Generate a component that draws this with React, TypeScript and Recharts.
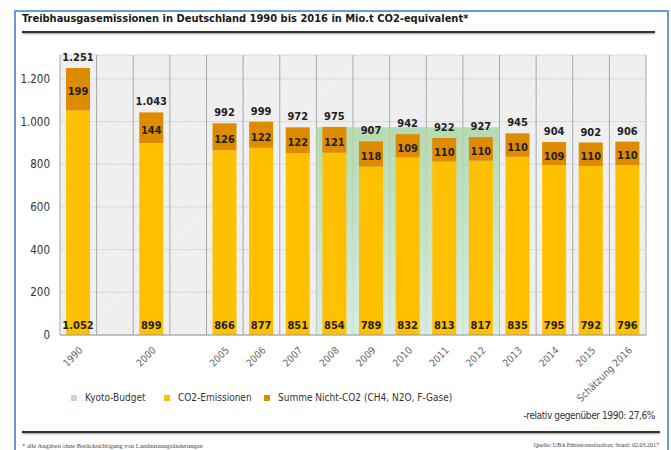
import React from "react";
import {
  ComposedChart,
  Bar,
  XAxis,
  YAxis,
  CartesianGrid,
  ReferenceArea,
  LabelList,
} from "recharts";

// categories (two empty columns between 1990, 2000 and 2005)
const years = [
  "1990", "gap1", "2000", "gap2", "2005", "2006", "2007", "2008",
  "2009", "2010", "2011", "2012", "2013", "2014", "2015", "Schätzung 2016",
];
const co2 = [1052, null, 899, null, 866, 877, 851, 854, 789, 832, 813, 817, 835, 795, 792, 796];
const nonCo2 = [199, null, 144, null, 126, 122, 122, 121, 118, 109, 110, 110, 110, 109, 110, 110];
const totals = [1251, null, 1043, null, 992, 999, 972, 975, 907, 942, 922, 927, 945, 904, 902, 906];
const yTicks = [0, 200, 400, 600, 800, 1000, 1200];
const kyotoBudget = 974;
const kyotoFrom = "2008";
const kyotoTo = "2012";

const data = years.map((year, i) => ({
  year,
  co2: co2[i],
  nonCo2: nonCo2[i],
  total: totals[i],
}));

const YELLOW = "#ffc000";
const ORANGE = "#de8b00";
const GREEN = "#bfe0bb";
const FONT = "'DejaVu Sans Condensed', 'Liberation Sans', sans-serif";

const fmt = (v: any) =>
  v == null ? "" : String(v).replace(/\B(?=(\d{3})+(?!\d))/g, ".");

function YearTick({ x, y, payload }: any) {
  if (String(payload.value).startsWith("gap")) return <g />;
  const tx = x + 5;
  const ty = y + 14;
  return (
    <text
      x={tx}
      y={ty}
      transform={`rotate(-45, ${tx}, ${ty})`}
      textAnchor="end"
      fontSize={10}
      fontFamily={FONT}
      fill="#666"
    >
      {payload.value}
    </text>
  );
}

function BottomLabel({ x, y, width, height, value }: any) {
  if (value == null) return null;
  return (
    <text
      x={x + width / 2}
      y={y + height - 6}
      textAnchor="middle"
      fontSize={11}
      fontWeight="bold"
      fontFamily={FONT}
      fill="#222"
    >
      {fmt(value)}
    </text>
  );
}

function MidLabel({ x, y, width, height, value }: any) {
  if (value == null) return null;
  return (
    <text
      x={x + width / 2}
      y={y + height / 2 + 6}
      textAnchor="middle"
      fontSize={11}
      fontWeight="bold"
      fontFamily={FONT}
      fill="#222"
    >
      {fmt(value)}
    </text>
  );
}

const legendItems = [
  { color: GREEN, label: "Kyoto-Budget", left: 71 },
  { color: YELLOW, label: "CO2-Emissionen", left: 164 },
  { color: ORANGE, label: "Summe Nicht-CO2 (CH4, N2O, F-Gase)", left: 264 },
];

export default function App() {
  const n = years.length;
  const columnEdges = ({ offset }: any) =>
    Array.from({ length: n + 1 }, (_, i) => offset.left + (i * offset.width) / n);
  return (
    <div
      style={{
        position: "absolute",
        left: 0,
        top: 0,
        width: 671,
        height: 450,
        background: "#fff",
        overflow: "hidden",
        fontFamily: FONT,
        color: "#222",
      }}
    >
      <div
        style={{
          position: "absolute",
          left: 14,
          top: 10,
          width: 651,
          height: 480,
          border: "2px solid #6b9bd6",
        }}
      />
      <div
        style={{
          position: "absolute",
          left: 22,
          top: 12,
          fontSize: 11,
          fontWeight: "bold",
          color: "#1a1a1a",
        }}
      >
        Treibhausgasemissionen in Deutschland 1990 bis 2016 in Mio.t CO2-equivalent*
      </div>
      <div
        style={{
          position: "absolute",
          left: 22,
          top: 31,
          width: 633,
          height: 2,
          background: "#333",
          boxShadow: "0 1px 2px #999",
        }}
      />

      <div style={{ position: "absolute", left: 0, top: 0 }}>
        <ComposedChart
          width={671}
          height={450}
          data={data}
          margin={{ top: 55, right: 25, bottom: 55, left: 15 }}
        >
          <defs>
            <pattern id="hatch" width="4" height="4" patternUnits="userSpaceOnUse" patternTransform="rotate(45)">
              <rect width="4" height="4" fill="#f1f1f1" />
              <line x1="0" y1="0" x2="0" y2="4" stroke="#e4e4e4" strokeWidth="1" />
            </pattern>
            <linearGradient id="kyoto" x1="0" y1="0" x2="0" y2="1">
              <stop offset="0%" stopColor="#acd6a6" />
              <stop offset="100%" stopColor="#d3ebe1" />
            </linearGradient>
          </defs>
          <CartesianGrid fill="url(#hatch)" stroke="#dadada" vertical={false} />
          <XAxis
            dataKey="year"
            interval={0}
            tick={<YearTick />}
            tickLine={false}
            tickSize={0}
            height={60}
            axisLine={{ stroke: "#9a9a9a" }}
          />
          <YAxis
            domain={[0, 1312]}
            ticks={yTicks}
            tickFormatter={fmt}
            axisLine={false}
            tickLine={false}
            tickSize={0}
            tickMargin={10}
            width={45}
            tick={{ fontSize: 11.5, fill: "#333", fontFamily: FONT }}
          />
          <ReferenceArea
            x1={kyotoFrom}
            x2={kyotoTo}
            y1={0}
            y2={kyotoBudget}
            fill="url(#kyoto)"
            fillOpacity={0.85}
            stroke="none"
          />
          <CartesianGrid
            horizontal={false}
            stroke="#a8a8a8"
            verticalCoordinatesGenerator={columnEdges}
          />
          <Bar dataKey="co2" stackId="a" fill={YELLOW} barSize={24} isAnimationActive={false}>
            <LabelList dataKey="co2" content={<BottomLabel />} />
          </Bar>
          <Bar dataKey="nonCo2" stackId="a" fill={ORANGE} barSize={24} isAnimationActive={false}>
            <LabelList dataKey="nonCo2" content={<MidLabel />} />
            <LabelList
              dataKey="total"
              position="top"
              offset={7}
              formatter={fmt}
              style={{ fontSize: 11, fontWeight: "bold", fill: "#222", fontFamily: FONT }}
            />
          </Bar>
        </ComposedChart>
      </div>

      {legendItems.map((item) => (
        <div
          key={item.label}
          style={{
            position: "absolute",
            left: item.left,
            top: 392,
            fontSize: 10,
            color: "#333",
            display: "flex",
            alignItems: "center",
            whiteSpace: "nowrap",
          }}
        >
          <span style={{ width: 6, height: 6, background: item.color, marginRight: 8 }} />
          {item.label}
        </div>
      ))}
      <div
        style={{
          position: "absolute",
          right: 16,
          top: 410,
          fontSize: 10,
          letterSpacing: -0.4,
          color: "#333",
        }}
      >
        -relativ gegenüber 1990: 27,6%
      </div>
      <div
        style={{
          position: "absolute",
          left: 22,
          top: 431,
          width: 638,
          height: 2,
          background: "#333",
          boxShadow: "0 1px 2px #999",
        }}
      />
      <div
        style={{
          position: "absolute",
          left: 22,
          top: 442,
          fontSize: 6.5,
          fontFamily: "'Liberation Serif', serif",
          color: "#444",
        }}
      >
        * alle Angaben ohne Berücksichtigung von Landnutzungsänderungen
      </div>
      <div
        style={{
          position: "absolute",
          right: 12,
          top: 442,
          fontSize: 6,
          fontFamily: "'Liberation Serif', serif",
          color: "#444",
        }}
      >
        Quelle: UBA Emissionssituation; Stand: 02.03.2017
      </div>
    </div>
  );
}
